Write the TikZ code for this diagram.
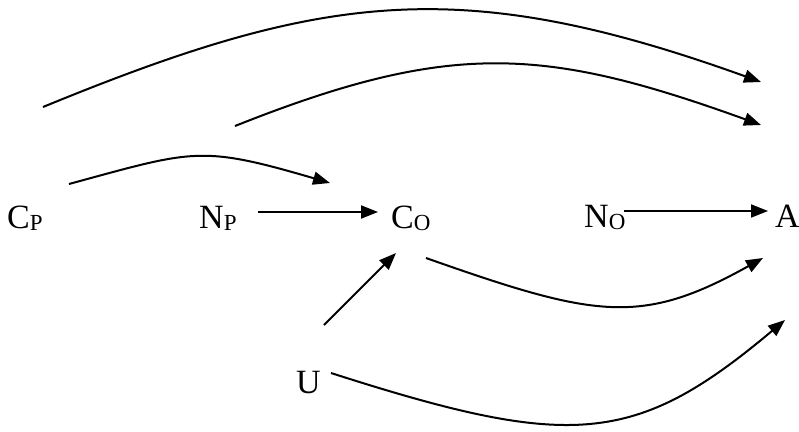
\documentclass[tikz,border=0pt]{standalone}
\usepackage{fontspec}
\setmainfont{Liberation Serif}
\usetikzlibrary{arrows.meta}
\newcommand\subsz{\fontsize{23}{23}\selectfont}
\newcommand\lbl[2]{#1\raisebox{-2pt}{\subsz #2}}
\tikzset{
  lab/.style={inner sep=0pt, anchor=base west, font=\fontsize{34}{38}\selectfont},
  arr/.style={line width=2pt, -{Triangle[length=17pt,width=13pt]}}
}
\begin{document}
\begin{tikzpicture}[x=1pt,y=-1pt]
\useasboundingbox[fill=white] (0,0) rectangle (799,431);
% nodes
\node[lab] (cp) at (7,228) {\lbl{C}{P}};
\node[lab] (np) at (199,228) {\lbl{N}{P}};
\node[lab] (co) at (391,228) {\lbl{C}{O}};
\node[lab] (no) at (584,227) {\lbl{N}{O}};
\node[lab] (a)  at (775,227) {A};
\node[lab] (u)  at (296,393) {U};
% connector end points
\coordinate (cpTop) at (43,107);
\coordinate (npTop) at (235,126);
\coordinate (cpS) at (69,184);
\coordinate (coIn) at (330,183);
\coordinate (aTop1) at (761,82);
\coordinate (aTop2) at (761,125);
\coordinate (coOut) at (426,258);
\coordinate (aLow1) at (763,258);
\coordinate (uOut) at (331,373);
\coordinate (aLow2) at (785,320);
\coordinate (uUp) at (324,325);
\coordinate (coLow) at (396,253);
\coordinate (npR) at (258,212);
\coordinate (coL) at (378,212);
\coordinate (noR) at (624,211);
\coordinate (aL) at (768,211);
% connectors
\draw[arr] (cpTop) .. controls (323,-8) and (461,-26) .. (aTop1);
\draw[arr] (npTop) .. controls (451,40) and (545,47) .. (aTop2);
\draw[arr] (cpS) .. controls (194,150) and (200,145) .. (coIn);
\draw[arr] (npR) -- (coL);
\draw[arr] (noR) -- (aL);
\draw[arr] (coOut) .. controls (596,318) and (641,326) .. (aLow1);
\draw[arr] (uUp) -- (coLow);
\draw[arr] (uOut) .. controls (571,450) and (635,446) .. (aLow2);
\end{tikzpicture}
\end{document}
